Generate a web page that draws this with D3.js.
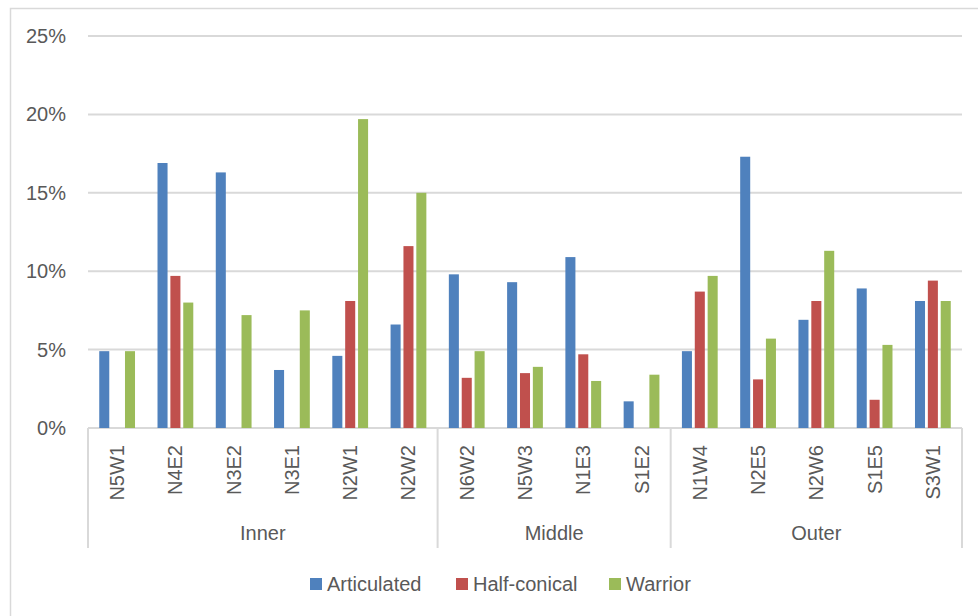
<!DOCTYPE html>
<html>
<head>
<meta charset="utf-8">
<script src="https://cdn.jsdelivr.net/npm/d3@7"></script>
<style>
	body { margin: 0; background: #fff; }
	text { font-family: "Liberation Sans", Arial, sans-serif; fill: #595959; }
</style>
</head>
<body>
<div id="chart-area"></div>
<script>
const W = 978
const H = 616

const margin = {
	top: 36,
	left: 88,
	right: 16,
	bottom: 188
}

const width = W - margin.left - margin.right
const height = H - margin.top - margin.bottom

// data (percent)
const zones = ['Inner', 'Middle', 'Outer']
const sites = ['N5W1', 'N4E2', 'N3E2', 'N3E1', 'N2W1', 'N2W2',
	'N6W2', 'N5W3', 'N1E3', 'S1E2',
	'N1W4', 'N2E5', 'N2W6', 'S1E5', 'S3W1']
const siteZone = ['Inner', 'Inner', 'Inner', 'Inner', 'Inner', 'Inner',
	'Middle', 'Middle', 'Middle', 'Middle',
	'Outer', 'Outer', 'Outer', 'Outer', 'Outer']
const seriesNames = ['Articulated', 'Half-conical', 'Warrior']
const articulated = [4.9, 16.9, 16.3, 3.7, 4.6, 6.6, 9.8, 9.3, 10.9, 1.7, 4.9, 17.3, 6.9, 8.9, 8.1]
const halfConical = [0, 9.7, 0, 0, 8.1, 11.6, 3.2, 3.5, 4.7, 0, 8.7, 3.1, 8.1, 1.8, 9.4]
const warrior = [4.9, 8.0, 7.2, 7.5, 19.7, 15.0, 4.9, 3.9, 3.0, 3.4, 9.7, 5.7, 11.3, 5.3, 8.1]
const yTicks = [0, 5, 10, 15, 20, 25]

const seriesValues = [articulated, halfConical, warrior]
const colors = d3.scaleOrdinal(seriesNames, ['#4f81bd', '#c0504d', '#9bbb59'])
const gridColor = '#d9d9d9'

let svg = d3.select('#chart-area')
	.append('svg')
	.attr('width', W)
	.attr('height', H)

// outer chart border
svg.append('rect')
	.attr('x', 10.5)
	.attr('y', 8.5)
	.attr('width', W)
	.attr('height', H)
	.attr('fill', 'none')
	.attr('stroke', gridColor)
	.attr('stroke-width', 1.5)

let g = svg.append('g')
	.attr('transform', 'translate(' + margin.left + ',' + margin.top + ')')

// scales
let xScale = d3.scaleBand()
	.domain(sites)
	.range([0, width])
	.paddingInner(0.333)
	.paddingOuter(0.1665)

let xSub = d3.scaleBand()
	.domain(seriesNames)
	.range([0, xScale.bandwidth()])
	.paddingInner(0.22)
	.paddingOuter(0.12)

let yScale = d3.scaleLinear()
	.domain([0, 25])
	.range([height, 0])

// gridlines
g.append('g')
	.selectAll('line')
	.data(yTicks)
	.enter()
	.append('line')
	.attr('x1', 0)
	.attr('x2', width)
	.attr('y1', d => yScale(d))
	.attr('y2', d => yScale(d))
	.attr('stroke', gridColor)
	.attr('stroke-width', 2)

// y labels
g.append('g')
	.selectAll('text')
	.data(yTicks)
	.enter()
	.append('text')
	.attr('x', -22)
	.attr('y', d => yScale(d))
	.attr('dy', '0.35em')
	.attr('text-anchor', 'end')
	.style('font-size', '20px')
	.text(d => d + '%')

// bars
let bars = []
sites.forEach((s, i) => {
	seriesNames.forEach((name, j) => {
		if (seriesValues[j][i] > 0) bars.push({ site: s, series: name, value: seriesValues[j][i] })
	})
})

g.append('g')
	.selectAll('rect')
	.data(bars)
	.enter()
	.append('rect')
	.attr('x', d => xScale(d.site) + xSub(d.series))
	.attr('width', xSub.bandwidth())
	.attr('y', d => yScale(d.value))
	.attr('height', d => yScale(0) - yScale(d.value))
	.attr('fill', d => colors(d.series))

// category axis - site labels
g.append('g')
	.selectAll('text')
	.data(sites)
	.enter()
	.append('text')
	.attr('transform', d => 'translate(' + (xScale(d) + xScale.bandwidth() / 2) + ',' + (height + 17) + ') rotate(-90)')
	.attr('dy', '0.35em')
	.attr('text-anchor', 'end')
	.style('font-size', '20px')
	.text(d => d)

// zone boundaries, in category units
let step = xScale.step()
let bounds = [0]
zones.forEach(z => {
	bounds.push(bounds[bounds.length - 1] + siteZone.filter(s => s === z).length)
})

g.append('g')
	.selectAll('line')
	.data(bounds)
	.enter()
	.append('line')
	.attr('x1', d => d * step)
	.attr('x2', d => d * step)
	.attr('y1', height)
	.attr('y2', height + 120)
	.attr('stroke', gridColor)
	.attr('stroke-width', 2)

// zone labels
g.append('g')
	.selectAll('text')
	.data(zones)
	.enter()
	.append('text')
	.attr('x', (z, i) => (bounds[i] + bounds[i + 1]) / 2 * step)
	.attr('y', height + 112)
	.attr('text-anchor', 'middle')
	.style('font-size', '20px')
	.text(d => d)

// legend
let legendX = [310, 456, 609]
let legend = svg.append('g')
	.selectAll('g')
	.data(seriesNames)
	.enter()
	.append('g')
	.attr('transform', (d, i) => 'translate(' + legendX[i] + ',578)')

legend.append('rect')
	.attr('width', 12)
	.attr('height', 12)
	.attr('fill', d => colors(d))

legend.append('text')
	.attr('x', 17)
	.attr('y', 12.5)
	.style('font-size', '20px')
	.text(d => d)
</script>
</body>
</html>
